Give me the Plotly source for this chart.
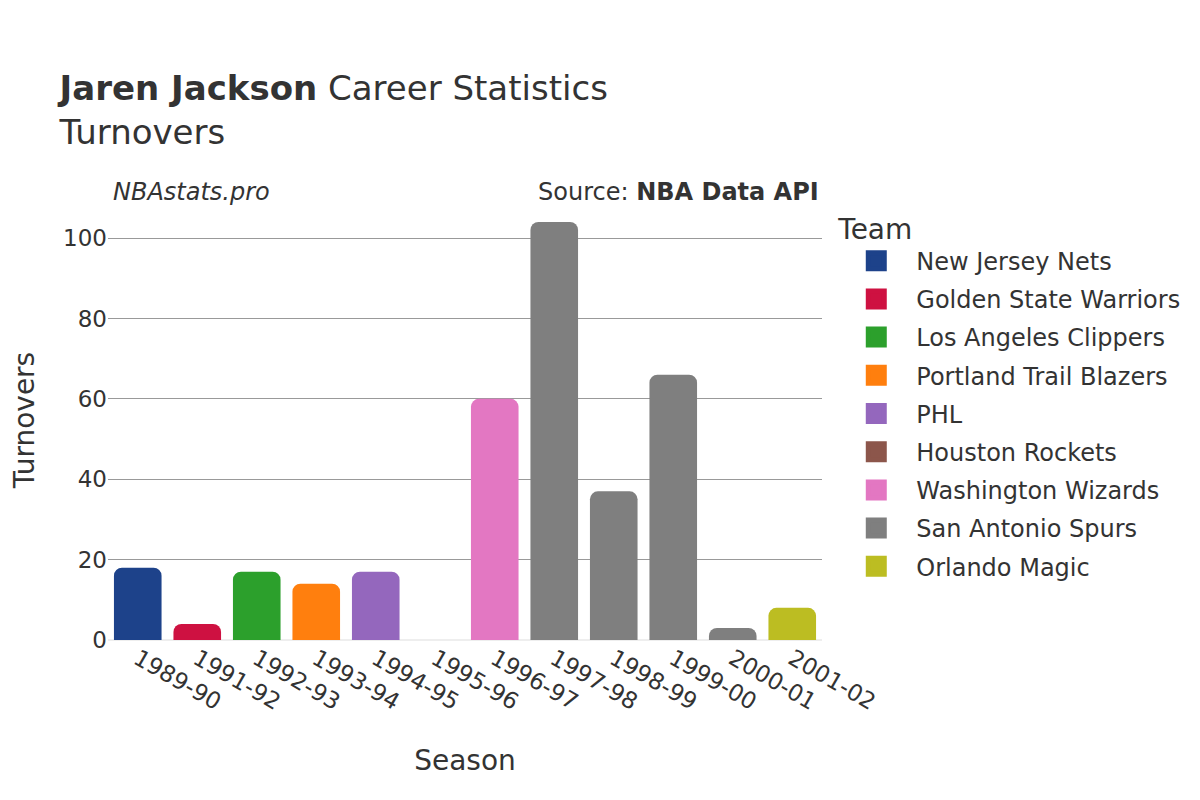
import plotly.graph_objects as go

seasons = ["1989-90", "1991-92", "1992-93", "1993-94", "1994-95", "1995-96",
           "1996-97", "1997-98", "1998-99", "1999-00", "2000-01", "2001-02"]
teams = ["New Jersey Nets", "Golden State Warriors", "Los Angeles Clippers",
         "Portland Trail Blazers", "PHL", "Houston Rockets", "Washington Wizards",
         "San Antonio Spurs", "San Antonio Spurs", "San Antonio Spurs",
         "San Antonio Spurs", "Orlando Magic"]
turnovers = [18, 4, 17, 14, 17, 0, 60, 104, 37, 66, 3, 8]

team_order = ["New Jersey Nets", "Golden State Warriors", "Los Angeles Clippers",
              "Portland Trail Blazers", "PHL", "Houston Rockets",
              "Washington Wizards", "San Antonio Spurs", "Orlando Magic"]
team_colors = ["#1D428A", "#CE1141", "#2CA02C", "#FF7F0E", "#9467BD",
               "#8C564B", "#E377C2", "#7F7F7F", "#BCBD22"]

fig = go.Figure()
for team, color in zip(team_order, team_colors):
    xs = [s for s, t in zip(seasons, teams) if t == team]
    ys = [v for v, t in zip(turnovers, teams) if t == team]
    fig.add_trace(go.Bar(x=xs, y=ys, name=team, marker_color=color,
                         marker_line_width=0, legendgroup=team,
                         showlegend=False))
    # legend-only entry with a bigger square swatch
    fig.add_trace(go.Scatter(x=[None], y=[None], mode="markers", name=team,
                             legendgroup=team,
                             marker=dict(symbol="square", size=16, color=color,
                                         line=dict(color=color, width=5))))

fig.update_layout(
    width=1200, height=800,
    font=dict(family="DejaVu Sans", size=23, color="#333"),
    title=dict(text="<b>Jaren Jackson</b> Career Statistics<br>Turnovers",
               x=0.043, xanchor="left", y=0.885, yanchor="top",
               font=dict(size=34)),
    plot_bgcolor="white", paper_bgcolor="white",
    barmode="relative", bargap=0.2, barcornerradius=8,
    margin=dict(l=100, r=386, t=192, b=168),
    legend=dict(title=dict(text="Team", font=dict(size=28)),
                x=1.02, y=0.995, yanchor="top", font=dict(size=24),
                itemwidth=70, itemsizing="trace", tracegroupgap=4),
    xaxis=dict(title=dict(text="Season", font=dict(size=28), standoff=36),
               tickangle=30, categoryorder="array", categoryarray=seasons,
               automargin=False),
    yaxis=dict(title=dict(text="Turnovers", font=dict(size=28), standoff=32),
               gridcolor="#999", zeroline=True, zerolinecolor="#eee",
               zerolinewidth=2, tickvals=[0, 20, 40, 60, 80, 100],
               automargin=False),
    annotations=[
        dict(text="<i>NBAstats.pro</i>", xref="paper", yref="paper",
             x=0.004, y=1.0, xanchor="left", yanchor="bottom", yshift=-8,
             showarrow=False, font=dict(size=24)),
        dict(text="Source: <b>NBA Data API</b>", xref="paper", yref="paper",
             x=0.999, y=1.0, xanchor="right", yanchor="bottom", yshift=-8,
             showarrow=False, font=dict(size=24)),
    ],
)

fig.write_html("out.html")
